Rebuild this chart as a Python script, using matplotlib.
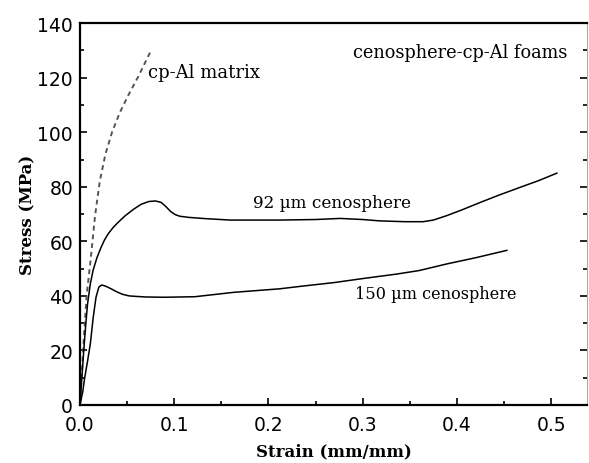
import matplotlib
matplotlib.use("Agg")
import matplotlib.pyplot as plt
from matplotlib.ticker import MultipleLocator, FormatStrFormatter

# cp-Al matrix (dashed)
matrix_strain = [0.0, 0.002, 0.004, 0.007, 0.011, 0.016, 0.021, 0.027, 0.034, 0.042, 0.051, 0.062, 0.0743]
matrix_stress = [0.0, 12, 24, 40, 52.3, 69.4, 82, 92, 100, 107, 113.4, 120.5, 129.2]

# 92 um cenosphere foam
s92_strain = [0.0, 0.002, 0.004, 0.006, 0.008, 0.011, 0.014, 0.018, 0.022, 0.026, 0.030, 0.035,
              0.040, 0.048, 0.057, 0.065, 0.073, 0.080, 0.086, 0.091, 0.096, 0.101, 0.106,
              0.115, 0.130, 0.159, 0.212, 0.250, 0.276, 0.300, 0.318, 0.345, 0.364, 0.375,
              0.389, 0.405, 0.425, 0.445, 0.467, 0.487, 0.506]
s92_stress = [0.0, 10, 20, 29, 37, 44.5, 49.5, 54, 57.5, 60.5, 62.8, 65.0,
              66.8, 69.4, 71.8, 73.6, 74.6, 74.8, 74.3, 72.8, 71.0, 69.8, 69.2,
              68.8, 68.4, 67.8, 67.8, 68.0, 68.4, 68.0, 67.5, 67.2, 67.2, 67.8,
              69.4, 71.5, 74.3, 77.0, 79.8, 82.3, 85.0]

# 150 um cenosphere foam
s150_strain = [0.0, 0.003, 0.005, 0.008, 0.011, 0.014, 0.017, 0.020, 0.023, 0.027, 0.033, 0.039,
               0.045, 0.052, 0.060, 0.070, 0.090, 0.122, 0.163, 0.212, 0.234, 0.270, 0.301,
               0.336, 0.360, 0.389, 0.420, 0.453]
s150_stress = [0.0, 5, 10, 16, 22.5, 32, 39.5, 43.2, 44.0, 43.6, 42.6, 41.5,
               40.6, 40.0, 39.8, 39.6, 39.5, 39.7, 41.3, 42.6, 43.5, 44.9, 46.4,
               48.0, 49.3, 51.7, 54.0, 56.7]

fig = plt.figure(figsize=(5.89, 4.64), dpi=100)
ax = fig.add_axes([0.1358, 0.125, 0.8608, 0.823])

ax.plot(matrix_strain, matrix_stress, color="#555555", lw=1.4, ls=(0, (2.5, 2)))
ax.plot(s92_strain, s92_stress, color="black", lw=1.1)
ax.plot(s150_strain, s150_stress, color="black", lw=1.1)

serif = ["DejaVu Serif"]
ax.text(0.072, 122, "cp-Al matrix", family=serif, fontsize=13, va="center", ha="left")
ax.text(0.517, 129.3, "cenosphere-cp-Al foams", family=serif, fontsize=12.8, va="center", ha="right")
ax.text(0.184, 74.4, "92 \u00b5m cenosphere", family=serif, fontsize=12.2, va="center", ha="left")
ax.text(0.292, 40.7, "150 \u00b5m cenosphere", family=serif, fontsize=11.6, va="center", ha="left")

ax.set_xlim(0, 0.538)
ax.set_ylim(0, 140)
ax.xaxis.set_major_locator(MultipleLocator(0.1))
ax.xaxis.set_minor_locator(MultipleLocator(0.05))
ax.yaxis.set_major_locator(MultipleLocator(20))
ax.yaxis.set_minor_locator(MultipleLocator(10))
ax.xaxis.set_major_formatter(FormatStrFormatter("%.1f"))

ax.tick_params(which="both", direction="in", top=False, right=True, width=1.2)
ax.tick_params(which="major", length=5, labelsize=13.5)
ax.tick_params(axis="x", which="major", pad=7)
ax.tick_params(axis="y", which="major", pad=5)
ax.tick_params(which="minor", length=3)
for lab in ax.get_xticklabels() + ax.get_yticklabels():
    lab.set_family("DejaVu Sans")

for side in ["left", "bottom", "top"]:
    ax.spines[side].set_linewidth(1.6)
ax.spines["right"].set_linewidth(0.8)
ax.spines["right"].set_color("#aaaaaa")

ax.set_xlabel("Strain (mm/mm)", family=serif, fontsize=12, fontweight="bold", labelpad=6)
ax.set_ylabel("Stress (MPa)", family=serif, fontsize=12, fontweight="bold", labelpad=1)

fig.savefig("out.png", dpi=100)
